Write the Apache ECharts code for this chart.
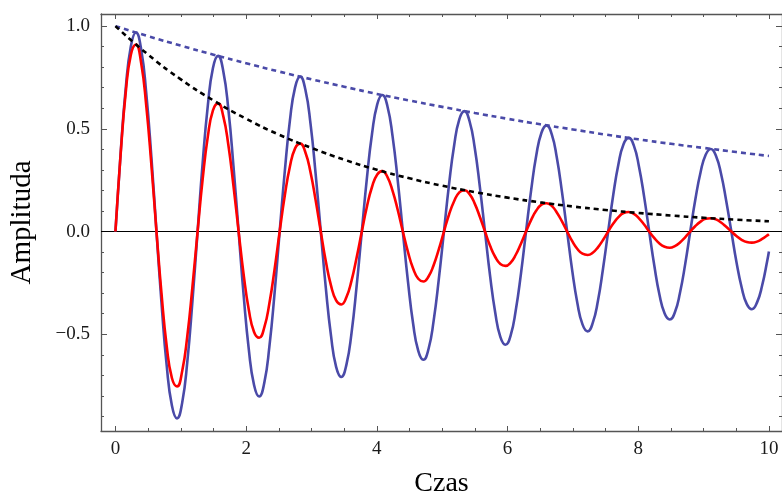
<!DOCTYPE html>
<html>
<head>
<meta charset="utf-8">
<script src="https://cdn.jsdelivr.net/npm/echarts@6/dist/echarts.min.js"></script>
<style>html,body{margin:0;padding:0;background:#fff}#c{width:782px;height:503px}</style>
</head>
<body>
<div id="c"></div>
<script>
// ---- data ----
var time = [0,0.079,0.157,0.236,0.314,0.393,0.471,0.550,0.628,0.707,0.785,0.864,0.942,1.021,1.100,1.178,1.257,1.335,1.414,1.492,1.571,1.649,1.728,1.806,1.885,1.963,2.042,2.121,2.199,2.278,2.356,2.435,2.513,2.592,2.670,2.749,2.827,2.906,2.985,3.063,3.142,3.220,3.299,3.377,3.456,3.534,3.613,3.691,3.770,3.848,3.927,4.006,4.084,4.163,4.241,4.320,4.398,4.477,4.555,4.634,4.712,4.791,4.869,4.948,5.027,5.105,5.184,5.262,5.341,5.419,5.498,5.576,5.655,5.733,5.812,5.890,5.969,6.048,6.126,6.205,6.283,6.362,6.440,6.519,6.597,6.676,6.754,6.833,6.912,6.990,7.069,7.147,7.226,7.304,7.383,7.461,7.540,7.618,7.697,7.775,7.854,7.933,8.011,8.090,8.168,8.247,8.325,8.404,8.482,8.561,8.639,8.718,8.796,8.875,8.954,9.032,9.111,9.189,9.268,9.346,9.425,9.503,9.582,9.660,9.739,9.817,9.896,9.975,10];
var blueWave = [0,0.380,0.696,0.902,0.969,0.888,0.675,0.362,0,-0.357,-0.654,-0.847,-0.910,-0.834,-0.633,-0.340,0,0.335,0.614,0.796,0.855,0.783,0.595,0.319,0,-0.314,-0.577,-0.747,-0.803,-0.736,-0.559,-0.300,0,0.295,0.541,0.702,0.754,0.691,0.525,0.282,0,-0.277,-0.508,-0.659,-0.708,-0.649,-0.493,-0.265,0,0.260,0.477,0.619,0.665,0.609,0.463,0.248,0,-0.245,-0.448,-0.581,-0.624,-0.572,-0.435,-0.233,0,0.230,0.421,0.546,0.586,0.537,0.408,0.219,0,-0.216,-0.395,-0.513,-0.551,-0.505,-0.383,-0.206,0,0.203,0.371,0.481,0.517,0.474,0.360,0.193,0,-0.190,-0.349,-0.452,-0.486,-0.445,-0.338,-0.181,0,0.179,0.328,0.425,0.456,0.418,0.317,0.170,0,-0.168,-0.308,-0.399,-0.428,-0.393,-0.298,-0.160,0,0.158,0.289,0.374,0.402,0.369,0.280,0.150,0,-0.148,-0.271,-0.352,-0.378,-0.346,-0.263,-0.141,-0.097];
var redWave = [0,0.374,0.675,0.861,0.910,0.821,0.614,0.324,0,-0.310,-0.559,-0.713,-0.754,-0.680,-0.508,-0.269,0,0.256,0.463,0.590,0.624,0.563,0.421,0.223,0,-0.212,-0.383,-0.489,-0.517,-0.467,-0.349,-0.184,0,0.176,0.317,0.405,0.428,0.386,0.289,0.153,0,-0.146,-0.263,-0.335,-0.355,-0.320,-0.239,-0.126,0,0.121,0.218,0.278,0.294,0.265,0.198,0.105,0,-0.100,-0.180,-0.230,-0.243,-0.219,-0.164,-0.087,0,0.083,0.149,0.191,0.201,0.182,0.136,0.072,0,-0.069,-0.124,-0.158,-0.167,-0.151,-0.113,-0.059,0,0.057,0.102,0.131,0.138,0.125,0.093,0.049,0,-0.047,-0.085,-0.108,-0.114,-0.103,-0.077,-0.041,0,0.039,0.070,0.090,0.095,0.086,0.064,0.034,0,-0.032,-0.058,-0.074,-0.079,-0.071,-0.053,-0.028,0,0.027,0.048,0.062,0.065,0.059,0.044,0.023,0,-0.022,-0.040,-0.051,-0.054,-0.049,-0.036,-0.019,-0.013];
var envTime = [0,0.5,1,1.5,2,2.5,3,3.5,4,4.5,5,5.5,6,6.5,7,7.5,8,8.5,9,9.5,10];
var blueEnvelope = [1,0.951,0.905,0.861,0.819,0.779,0.741,0.705,0.670,0.638,0.607,0.577,0.549,0.522,0.497,0.472,0.449,0.427,0.407,0.387,0.368];
var blackEnvelope = [1,0.861,0.741,0.638,0.549,0.472,0.407,0.350,0.301,0.259,0.223,0.192,0.165,0.142,0.122,0.105,0.0907,0.0781,0.0672,0.0578,0.0498];
var xMajorTicks = [0,2,4,6,8,10];
var xMinorTicks = [0.5,1,1.5,2.5,3,3.5,4.5,5,5.5,6.5,7,7.5,8.5,9,9.5];
var yMajorTicks = [-0.5,0,0.5,1];
var yMinorTicks = [-0.9,-0.8,-0.7,-0.6,-0.4,-0.3,-0.2,-0.1,0.1,0.2,0.3,0.4,0.6,0.7,0.8,0.9];
var xTitle = 'Czas';
var yTitle = 'Amplituda';

// ---- chart ----
var X_MIN = -0.221, X_MAX = 10.2, Y_MIN = -0.971, Y_MAX = 1.059;
var frameColor = '#555';
var labelFont = {fontFamily: 'Liberation Serif', fontSize: 19, color: '#1a1a1a'};
function pairs(xs, ys){ return xs.map(function(x,i){ return [x, ys[i]]; }); }

function xAx(pos, major, labels){
  return {
    type: 'value', position: pos, min: X_MIN, max: X_MAX, gridIndex: 0,
    axisLine: {show: major, onZero: false, lineStyle: {color: frameColor, width: 1.3}},
    splitLine: {show: false},
    axisTick: {show: true, inside: true, length: major ? 5 : 3, customValues: major ? xMajorTicks : xMinorTicks, lineStyle: {color: frameColor, width: 1}},
    axisLabel: labels ? Object.assign({show: true, margin: 9, customValues: xMajorTicks, formatter: function(v){ return String(v); }}, labelFont) : {show: false}
  };
}
function yAx(pos, major, labels){
  return {
    type: 'value', position: pos, min: Y_MIN, max: Y_MAX, gridIndex: 0,
    axisLine: {show: major, onZero: false, lineStyle: {color: frameColor, width: 1.3}},
    splitLine: {show: false},
    axisTick: {show: true, inside: true, length: major ? 6 : 3, customValues: major ? yMajorTicks : yMinorTicks, lineStyle: {color: frameColor, width: 1}},
    axisLabel: labels ? Object.assign({show: true, margin: 11, customValues: yMajorTicks, formatter: function(v){ return v.toFixed(1).replace('-', '\u2212'); }}, labelFont) : {show: false}
  };
}

var xs = [xAx('bottom', true, true), xAx('bottom', false, false), xAx('top', true, false), xAx('top', false, false)];
xs[0].name = xTitle; xs[0].nameLocation = 'middle'; xs[0].nameGap = 39;
xs[0].nameTextStyle = {fontFamily: 'Liberation Serif', fontSize: 28, color: '#000'};
var ys = [yAx('left', true, true), yAx('left', false, false), yAx('right', true, false), yAx('right', false, false)];
ys[0].name = yTitle; ys[0].nameLocation = 'middle'; ys[0].nameGap = 64; ys[0].nameRotate = 90;
ys[0].nameTextStyle = {fontFamily: 'Liberation Serif', fontSize: 29, color: '#000'};

var chart = echarts.init(document.getElementById('c'), null, {renderer: 'canvas'});
chart.setOption({
  animation: false,
  backgroundColor: '#fff',
  grid: {left: 100, top: 14, width: 683, height: 423, containLabel: false},
  xAxis: xs,
  yAxis: ys,
  series: [
    {type: 'line', data: pairs(time, blueWave), showSymbol: false, smooth: true, lineStyle: {color: '#4a4aa8', width: 2.6}, z: 3,
     markLine: {silent: true, symbol: 'none', label: {show: false}, lineStyle: {color: '#000', width: 1, type: 'solid'}, data: [{yAxis: 0}], z: 2}},
    {type: 'line', data: pairs(time, redWave), showSymbol: false, smooth: true, lineStyle: {color: '#ff0000', width: 2.6}, z: 4},
    {type: 'line', data: pairs(envTime, blueEnvelope), showSymbol: false, smooth: true, lineStyle: {color: '#4a4aa8', width: 2.6, type: [5, 4]}, z: 5},
    {type: 'line', data: pairs(envTime, blackEnvelope), showSymbol: false, smooth: true, lineStyle: {color: '#000', width: 2.6, type: [5, 4]}, z: 6}
  ]
});
</script>
</body>
</html>
